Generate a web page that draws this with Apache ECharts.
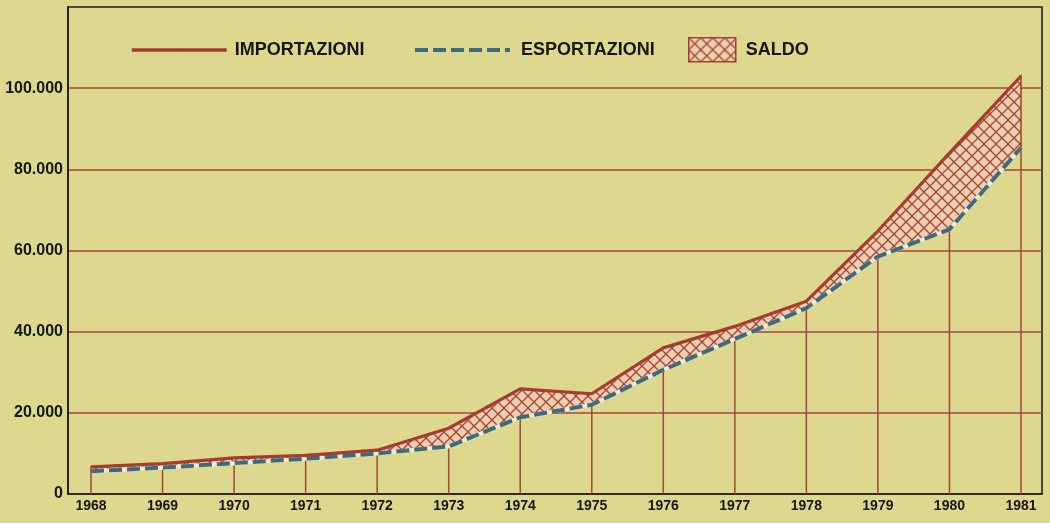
<!DOCTYPE html>
<html>
<head>
<meta charset="utf-8">
<script src="https://cdn.jsdelivr.net/npm/echarts@6/dist/echarts.min.js"></script>
<style>
  html, body { margin: 0; padding: 0; background: #ddd88e; }
  #chart { width: 1050px; height: 523px; }
</style>
</head>
<body>
<div id="chart"></div>
<script>
// Italian trade 1968-1981 (miliardi di lire)
const years = [1968, 1969, 1970, 1971, 1972, 1973, 1974, 1975, 1976, 1977, 1978, 1979, 1980, 1981];
const importazioni = [6700, 7500, 8900, 9500, 10800, 16200, 25900, 24700, 36000, 41300, 47500, 64800, 84000, 103000];
const esportazioni = [5600, 6500, 7600, 8700, 10000, 11700, 18900, 22000, 30600, 38200, 45800, 58500, 65200, 85300];
const yTicks = [0, 20000, 40000, 60000, 80000, 100000];

const RED = '#a63b30';
const GRID_RED = '#a4473a';
const BLUE = '#3e6a7e';
const INK = '#161616';
const FONT = 'Liberation Sans, Arial, sans-serif';

// cross-hatch tile for the balance area
function hatchTile() {
  const s = 12;
  const c = document.createElement('canvas');
  c.width = s; c.height = s;
  const g = c.getContext('2d');
  g.fillStyle = '#ebcfae';
  g.fillRect(0, 0, s, s);
  g.strokeStyle = '#a5433a';
  g.lineWidth = 1.3;
  g.beginPath();
  g.moveTo(-1, -1); g.lineTo(s + 1, s + 1);
  g.moveTo(s + 1, -1); g.lineTo(-1, s + 1);
  g.stroke();
  return c;
}
const hatch = { image: hatchTile(), repeat: 'repeat' };

const pairs = (vals) => years.map((y, i) => [y, vals[i]]);

const chart = echarts.init(document.getElementById('chart'), null, { renderer: 'canvas' });

const legendText = { color: INK, fontSize: 18, fontWeight: 'bold', fontFamily: FONT, padding: [0, 0, 0, 3] };

chart.setOption({
  backgroundColor: '#ddd88e',
  animation: false,
  grid: {
    left: 68, right: 8, top: 7, bottom: 29,
    show: true, borderColor: '#222', borderWidth: 1.6, backgroundColor: 'transparent'
  },
  legend: [
    {
      data: ['IMPORTAZIONI'], left: 130, top: 41, padding: 0, itemWidth: 95, itemHeight: 2,
      lineStyle: { width: 3.5, color: RED }, textStyle: legendText
    },
    {
      data: ['ESPORTAZIONI'], left: 413, top: 41, padding: 0, itemWidth: 95, itemHeight: 2,
      lineStyle: { width: 4, color: BLUE, type: [13, 5] }, textStyle: Object.assign({}, legendText, { padding: [0, 0, 0, 6] })
    },
    {
      data: [{ name: 'SALDO', icon: 'rect', itemStyle: { color: hatch, borderColor: RED, borderWidth: 1.5 } }],
      left: 688, top: 37, padding: 0, itemWidth: 47, itemHeight: 24,
      textStyle: Object.assign({}, legendText, { padding: [0, 0, 0, 5] })
    }
  ],
  xAxis: {
    type: 'value',
    min: 1967.678, max: 1981.294,
    axisLine: { show: true, lineStyle: { color: '#222', width: 1.6 } },
    axisTick: { show: false },
    splitLine: { show: false },
    axisLabel: {
      customValues: years,
      formatter: (v) => String(v),
      color: INK, fontSize: 14, fontWeight: 'bold', fontFamily: FONT, margin: 5
    }
  },
  yAxis: {
    type: 'value',
    min: 0, max: 120000, interval: 20000,
    axisLine: { show: true, lineStyle: { color: '#222', width: 1.8 } },
    axisTick: { show: false },
    splitLine: { show: true, showMinLine: false, showMaxLine: false, lineStyle: { color: GRID_RED, width: 1.5 } },
    axisLabel: {
      customValues: yTicks,
      formatter: (v) => (v === 0 ? '0' : (v / 1000) + '.000'),
      color: INK, fontSize: 16, fontWeight: 'bold', fontFamily: FONT, margin: 5
    }
  },
  series: [
    {
      // vertical drop lines from the axis to the export curve
      name: 'linee',
      type: 'custom',
      silent: true,
      data: pairs(esportazioni),
      z: 1,
      renderItem: (params, api) => {
        const x = api.value(0);
        const p0 = api.coord([x, 0]);
        const p1 = api.coord([x, api.value(1)]);
        return {
          type: 'line',
          shape: { x1: p0[0], y1: p0[1], x2: p1[0], y2: p1[1] },
          style: { stroke: GRID_RED, lineWidth: 1.5 }
        };
      }
    },
    {
      // balance: area between imports and exports
      name: 'SALDO',
      type: 'custom',
      silent: true,
      data: [[years[0], importazioni[0]]],
      itemStyle: { color: hatch, borderColor: RED },
      z: 2,
      renderItem: (params, api) => {
        const top = years.map((y, i) => api.coord([y, importazioni[i]]));
        const bottom = years.map((y, i) => api.coord([y, esportazioni[i]])).reverse();
        return {
          type: 'polygon',
          shape: { points: top.concat(bottom) },
          style: { fill: hatch, stroke: RED, lineWidth: 1.5 }
        };
      }
    },
    {
      // light underlay visible in the gaps of the dashed export line
      name: 'base',
      type: 'line',
      data: pairs(esportazioni),
      symbol: 'none',
      silent: true,
      z: 3,
      lineStyle: { color: '#eeebcf', width: 4 }
    },
    {
      name: 'ESPORTAZIONI',
      type: 'line',
      data: pairs(esportazioni),
      symbol: 'none',
      z: 4,
      itemStyle: { color: BLUE },
      lineStyle: { color: BLUE, width: 4, type: [13, 5] }
    },
    {
      name: 'IMPORTAZIONI',
      type: 'line',
      data: pairs(importazioni),
      symbol: 'none',
      z: 5,
      itemStyle: { color: RED },
      lineStyle: { color: RED, width: 3.2 }
    }
  ]
});
</script>
</body>
</html>
